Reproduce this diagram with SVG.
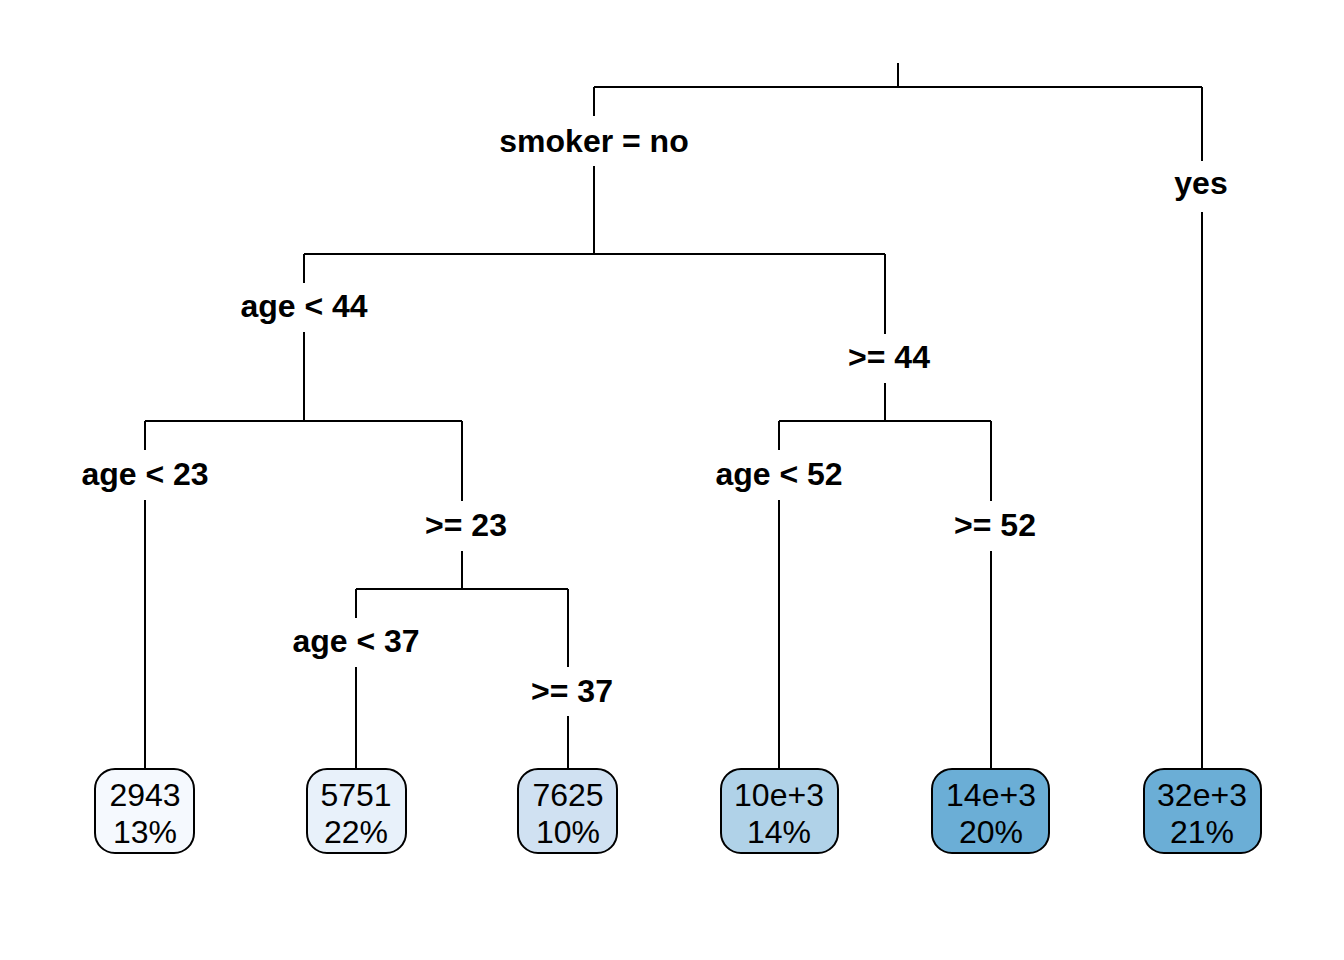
<svg xmlns="http://www.w3.org/2000/svg" width="1344" height="960" viewBox="0 0 1344 960">
<style>
.e{fill:none;stroke:#000;stroke-width:2}
.lb{font-family:"Liberation Sans",Arial,sans-serif;font-weight:bold;font-size:32px;text-anchor:middle;fill:#000}
.lf{font-family:"Liberation Sans",Arial,sans-serif;font-size:32px;text-anchor:middle;fill:#000}
.bx{stroke:#000;stroke-width:2}
</style>
<rect width="1344" height="960" fill="#fff"/>
<g id="connectors">
<path class="e" d="M898 63V87M594 87H1202"/>
<path class="e" d="M594 87V116M594 166V254"/>
<path class="e" d="M1202 87V161M1202 212V769"/>
<path class="e" d="M304 254H885"/>
<path class="e" d="M304 254V283M304 332V421"/>
<path class="e" d="M885 254V334M885 383V421"/>
<path class="e" d="M145 421H462M779 421H991"/>
<path class="e" d="M145 421V450M145 500V769"/>
<path class="e" d="M462 421V501M462 551V589"/>
<path class="e" d="M356 589H568"/>
<path class="e" d="M356 589V618M356 667V769"/>
<path class="e" d="M568 589V667M568 716V769"/>
<path class="e" d="M779 421V450M779 500V769"/>
<path class="e" d="M991 421V501M991 551V769"/>
</g>
<g id="labels">
<text class="lb" x="594" y="152">smoker = no</text>
<text class="lb" x="1201" y="194">yes</text>
<text class="lb" x="304" y="317">age &lt; 44</text>
<text class="lb" x="889" y="368">&gt;= 44</text>
<text class="lb" x="145" y="485">age &lt; 23</text>
<text class="lb" x="466" y="536">&gt;= 23</text>
<text class="lb" x="356" y="652">age &lt; 37</text>
<text class="lb" x="572" y="702">&gt;= 37</text>
<text class="lb" x="779" y="485">age &lt; 52</text>
<text class="lb" x="995" y="536">&gt;= 52</text>
</g>
<g id="leaf1"><rect class="bx" x="95" y="769" width="99" height="84" rx="20" fill="#F5F9FE"/><text class="lf" x="145" y="806">2943</text><text class="lf" x="145" y="843">13%</text></g>
<g id="leaf2"><rect class="bx" x="307" y="769" width="99" height="84" rx="20" fill="#E8F1FA"/><text class="lf" x="356" y="806">5751</text><text class="lf" x="356" y="843">22%</text></g>
<g id="leaf3"><rect class="bx" x="518" y="769" width="99" height="84" rx="20" fill="#D0E1F2"/><text class="lf" x="568" y="806">7625</text><text class="lf" x="568" y="843">10%</text></g>
<g id="leaf4"><rect class="bx" x="721" y="769" width="117" height="84" rx="20" fill="#B0D2E8"/><text class="lf" x="779" y="806">10e+3</text><text class="lf" x="779" y="843">14%</text></g>
<g id="leaf5"><rect class="bx" x="932" y="769" width="117" height="84" rx="20" fill="#6BAED6"/><text class="lf" x="991" y="806">14e+3</text><text class="lf" x="991" y="843">20%</text></g>
<g id="leaf6"><rect class="bx" x="1144" y="769" width="117" height="84" rx="20" fill="#6BAED6"/><text class="lf" x="1202" y="806">32e+3</text><text class="lf" x="1202" y="843">21%</text></g>
</svg>
